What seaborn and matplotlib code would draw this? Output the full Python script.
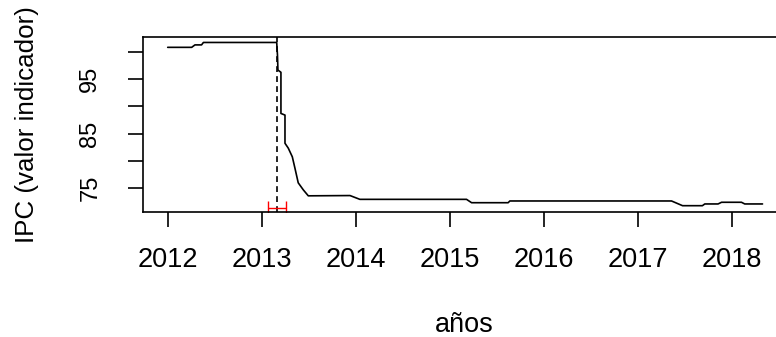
import numpy as np
import pandas as pd
import seaborn as sns
import matplotlib
matplotlib.use('Agg')
import matplotlib.pyplot as plt

# IPC series (year as decimal, index value)
years = [2012.00, 2012.255, 2012.29, 2012.36, 2012.38, 2013.16, 2013.168, 2013.173,
         2013.205, 2013.205, 2013.248, 2013.248, 2013.283, 2013.326, 2013.354, 2013.389,
         2013.443, 2013.496, 2013.94, 2014.045, 2015.18, 2015.234, 2015.623, 2015.641,
         2017.362, 2017.479, 2017.69, 2017.716, 2017.857, 2017.894, 2018.106, 2018.141,
         2018.33]
ipc = [100.9, 100.9, 101.35, 101.35, 101.8, 101.8, 99.5, 96.7,
       96.3, 88.7, 88.4, 83.2, 82.3, 80.7, 78.6, 75.9,
       74.6, 73.5, 73.55, 72.85, 72.85, 72.23, 72.23, 72.55,
       72.55, 71.68, 71.68, 72.0, 72.0, 72.31, 72.31, 72.0,
       72.0]

# breakpoint and its confidence interval
breakpoint = 2013.16
ci_low = 2013.067
ci_high = 2013.258
ci_level = 71.2

x_ticks = [2012, 2013, 2014, 2015, 2016, 2017, 2018]
y_ticks = [75, 80, 85, 90, 95, 100]
y_tick_labels = ['75', '', '85', '', '95', '']

df = pd.DataFrame({'anio': years, 'ipc': ipc})

sns.set_style('white')
plt.rcParams['font.family'] = ['Liberation Sans', 'DejaVu Sans']
plt.rcParams['text.color'] = 'black'
plt.rcParams['axes.labelcolor'] = 'black'

fig = plt.figure(figsize=(7.76, 3.37), dpi=100)
# axes box runs past the right edge of the picture, as in the original
ax = fig.add_axes([143 / 776, 1 - 212.3 / 337, (786 - 143) / 776, (212.3 - 36.5) / 337])

sns.lineplot(data=df, x='anio', y='ipc', ax=ax, color='black', linewidth=1.2,
             sort=False, estimator=None)

# breakpoint line
ax.axvline(breakpoint, color='black', linewidth=1.2, linestyle=(0, (3.5, 2.5)))

# confidence interval of the breakpoint
ax.errorbar(breakpoint, ci_level, xerr=[[breakpoint - ci_low], [ci_high - breakpoint]],
            color='red', linewidth=1.0, capsize=4.7, capthick=1.0, fmt='none')

ax.set_xlim(2011.737, 2018.58)
ax.set_ylim(70.46, 102.9)
ax.set_xticks(x_ticks)
ax.set_xticklabels([str(t) for t in x_ticks])
ax.set_yticks(y_ticks)
ax.set_yticklabels(y_tick_labels)

for s in ax.spines.values():
    s.set_color('black')
    s.set_linewidth(1.2)
    s.set_visible(True)

ax.tick_params(axis='both', direction='out', length=11, width=1.2, color='black',
               labelcolor='black', bottom=True, left=True)
ax.tick_params(axis='x', labelsize=19.5, pad=14)
ax.tick_params(axis='y', labelsize=17, pad=19, labelrotation=90)
for lab in ax.get_yticklabels():
    lab.set_va('center')

ax.set_xlabel('años', fontsize=19.5, labelpad=28)
ax.set_ylabel('IPC (valor indicador)', fontsize=18.7, labelpad=29)

fig.savefig('out.png', dpi=100)
